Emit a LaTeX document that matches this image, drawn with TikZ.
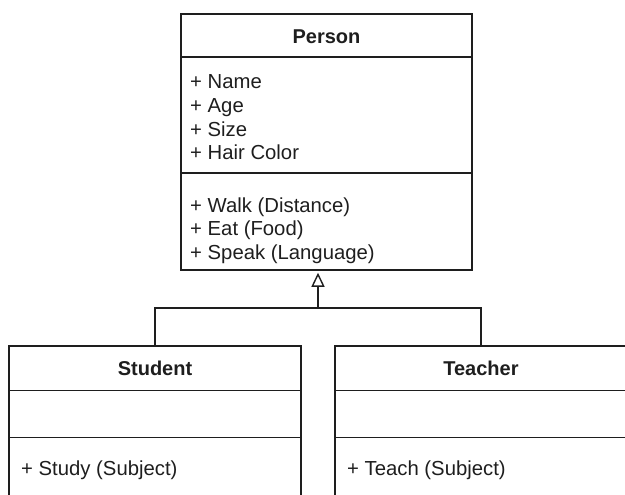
\documentclass[tikz,border=0pt]{standalone}
\usepackage{fontspec}
\setmainfont{Liberation Sans}
\usetikzlibrary{arrows.meta,calc}
\definecolor{ink}{HTML}{1E1E1E}
\begin{document}
\begin{tikzpicture}[x=1pt,y=-1pt,
  classbox/.style={draw=ink, line width=1.5pt, rectangle, inner sep=0pt, fill=none},
  divider/.style={draw=ink, line width=1.5pt},
  member/.style={anchor=base west, inner sep=0pt, text=ink, font=\fontsize{20.3}{23.5}\selectfont},
  classname/.style={anchor=base, inner sep=0pt, text=ink, font=\fontsize{20}{23.5}\selectfont\bfseries},
  link/.style={draw=ink, line width=1.5pt},
  inherit/.style={link, -{Triangle[open, length=14pt, width=13pt, line width=1.4pt]}}
]
\useasboundingbox (0,0) rectangle (625,495);
\clip (0,0) rectangle (625,495);

% Person class
\node[classbox, minimum width=291pt, minimum height=256pt] (person) at (326.5,142) {};
\draw[divider] ($(person.north west)+(0,44)$) -- ($(person.north east)+(0,44)$);
\draw[divider] ($(person.north west)+(0,160)$) -- ($(person.north east)+(0,160)$);
\node[classname] (ptitle) at (326.5,44) {Person};
\node[member] (pname)  at (190,89)  {+ Name};
\node[member] (page)   at (190,112.5) {+ Age};
\node[member] (psize)  at (190,136) {+ Size};
\node[member] (phair)  at (190,159.5) {+ Hair Color};
\node[member] (pwalk)  at (190,212) {+ Walk (Distance)};
\node[member] (peat)   at (190,235.5) {+ Eat (Food)};
\node[member] (pspeak) at (190,259) {+ Speak (Language)};

% Student class (runs past the lower edge)
\node[classbox, minimum width=292pt, minimum height=214pt] (student) at (155,453) {};
\draw[divider] ($(student.north west)+(0,45)$) -- ($(student.north east)+(0,45)$);
\draw[divider] ($(student.north west)+(0,92)$) -- ($(student.north east)+(0,92)$);
\node[classname] (stitle) at (155,375) {Student};
\node[member] (sstudy) at (21,475) {+ Study (Subject)};

% Teacher class (runs past the lower and right edges)
\node[classbox, minimum width=292pt, minimum height=214pt] (teacher) at (481,453) {};
\draw[divider] ($(teacher.north west)+(0,45)$) -- ($(teacher.north east)+(0,45)$);
\draw[divider] ($(teacher.north west)+(0,92)$) -- ($(teacher.north east)+(0,92)$);
\node[classname] (ttitle) at (481,375) {Teacher};
\node[member] (tteach) at (347,475) {+ Teach (Subject)};

% Generalisation: both subclasses join into one arrow to Person
\coordinate (join) at (318,308);
\draw[link] (student.north) |- (join);
\draw[link] (teacher.north) |- (join);
\draw[inherit] (join) -- ($(join |- person.south)+(0,2)$);
\end{tikzpicture}
\end{document}
